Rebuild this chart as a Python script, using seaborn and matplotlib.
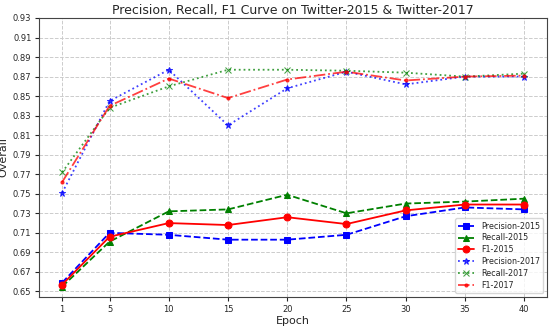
import seaborn as sns
import pandas as pd
import matplotlib.pyplot as plt

epochs = [1, 5, 10, 15, 20, 25, 30, 35, 40]

precision_2015 = [0.659, 0.710, 0.708, 0.703, 0.703, 0.708, 0.727, 0.736, 0.734]
recall_2015 = [0.655, 0.701, 0.732, 0.734, 0.749, 0.730, 0.740, 0.742, 0.745]
f1_2015 = [0.657, 0.706, 0.720, 0.718, 0.726, 0.719, 0.733, 0.739, 0.739]
precision_2017 = [0.751, 0.845, 0.877, 0.820, 0.858, 0.875, 0.862, 0.870, 0.870]
recall_2017 = [0.772, 0.838, 0.860, 0.877, 0.877, 0.876, 0.874, 0.870, 0.873]
f1_2017 = [0.762, 0.840, 0.868, 0.848, 0.867, 0.875, 0.866, 0.870, 0.871]

y_ticks = [0.65 + 0.02 * i for i in range(15)]

series = [
    ("Precision-2015", precision_2015, "b", "--", "s", 5, 1.0),
    ("Recall-2015", recall_2015, "g", "--", "^", 5, 1.0),
    ("F1-2015", f1_2015, "r", "-", "o", 5, 1.0),
    ("Precision-2017", precision_2017, "b", ":", "*", 4.5, 0.75),
    ("Recall-2017", recall_2017, "g", ":", "x", 4.5, 0.75),
    ("F1-2017", f1_2017, "r", "-.", ".", 4.5, 0.75),
]

sns.set_style("ticks")
plt.rcParams['font.family'] = ['DejaVu Sans']

fig, ax = plt.subplots(figsize=(5.5, 3.27), dpi=100)
fig.subplots_adjust(left=0.071, right=0.995, top=0.945, bottom=0.092)

for name, vals, color, ls, marker, ms, alpha in series:
    df = pd.DataFrame({"epoch": epochs, "value": vals})
    sns.lineplot(data=df, x="epoch", y="value", color=color, linestyle=ls, marker=marker,
                 markersize=ms, markeredgecolor=color, linewidth=1.3, alpha=alpha,
                 label=name, ax=ax)

ax.set_title("Precision, Recall, F1 Curve on Twitter-2015 & Twitter-2017", fontsize=9, pad=3)
ax.set_xlabel("Epoch", fontsize=8, labelpad=2)
ax.set_ylabel("Overall", fontsize=8, labelpad=3)
ax.set_xticks(epochs)
ax.set_yticks(y_ticks)
ax.set_yticklabels([f"{t:.2f}" for t in y_ticks])
ax.tick_params(labelsize=6, length=3, pad=2.5)
ax.set_ylim(0.6444, 0.93)
ax.grid(True, linestyle="--", color="#cccccc", linewidth=0.7)
for s in ax.spines.values():
    s.set_color("#444444")
ax.legend(loc="lower right", fontsize=5.8, frameon=True, labelspacing=0.35)

plt.savefig("out.png")
